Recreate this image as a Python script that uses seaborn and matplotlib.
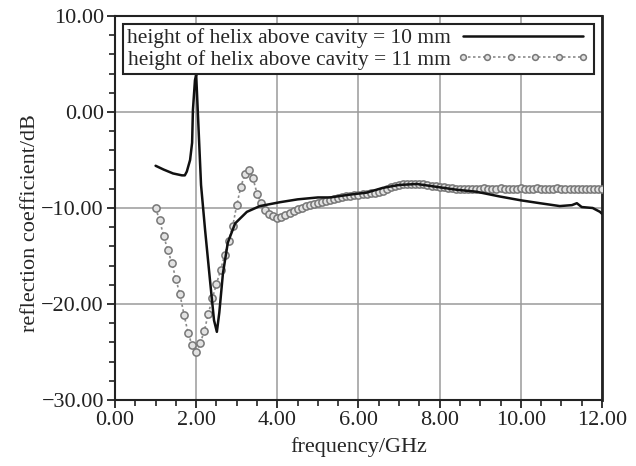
import numpy as np
import pandas as pd
import matplotlib
matplotlib.use("Agg")
import matplotlib.pyplot as plt
import seaborn as sns
from matplotlib.ticker import MultipleLocator, FuncFormatter

# ---- data ----
freq_10mm = [1.0, 1.2, 1.43, 1.65, 1.72, 1.77, 1.85, 1.9, 1.92, 1.97, 2.0, 2.12, 2.22, 2.34,
             2.44, 2.51, 2.57, 2.66, 2.78, 2.96, 3.25, 3.57, 4.06, 4.5, 5.0, 5.3, 5.8, 6.2,
             6.6, 7.0, 7.44, 7.93, 8.42, 8.9, 9.48, 10.0, 10.47, 10.96, 11.26, 11.38, 11.5,
             11.77, 11.95, 12.0]
refl_10mm = [-5.6, -6.0, -6.4, -6.6, -6.6, -6.2, -5.0, -3.2, 0.2, 3.3, 3.9, -7.6, -12.3, -17.5,
             -21.7, -22.9, -20.9, -16.8, -13.6, -11.6, -10.4, -9.8, -9.4, -9.1, -8.9, -8.9, -8.6, -8.4,
             -7.9, -7.6, -7.5, -7.8, -8.1, -8.3, -8.8, -9.2, -9.5, -9.8, -9.7, -9.5, -9.9,
             -10.0, -10.4, -10.6]

freq_11mm = [1.0, 1.1, 1.2, 1.3, 1.4, 1.5, 1.6, 1.7, 1.8, 1.9, 2.0, 2.1, 2.2, 2.3, 2.4, 2.5,
             2.6, 2.7, 2.8, 2.9, 3.0, 3.1, 3.2, 3.3, 3.4, 3.5, 3.6, 3.7, 3.8, 3.9, 4.0, 4.1,
             4.2, 4.3, 4.4, 4.5, 4.6, 4.7, 4.8, 4.9, 5.0, 5.1, 5.2, 5.3, 5.4, 5.5, 5.6, 5.7,
             5.8, 5.9, 6.0, 6.1, 6.2, 6.3, 6.4, 6.5, 6.6, 6.7, 6.8, 6.9, 7.0, 7.1, 7.2, 7.3,
             7.4, 7.5, 7.6, 7.7, 7.8, 7.9, 8.0, 8.1, 8.2, 8.3, 8.4, 8.5, 8.6, 8.7, 8.8, 8.9,
             9.0, 9.1, 9.2, 9.3, 9.4, 9.5, 9.6, 9.7, 9.8, 9.9, 10.0, 10.1, 10.2, 10.3, 10.4,
             10.5, 10.6, 10.7, 10.8, 10.9, 11.0, 11.1, 11.2, 11.3, 11.4, 11.5, 11.6, 11.7,
             11.8, 11.9, 12.0]
refl_11mm = [-10.0, -11.3, -12.9, -14.4, -15.7, -17.4, -19.0, -21.1, -23.0, -24.3, -25.0, -24.1,
             -22.8, -21.0, -19.4, -17.9, -16.5, -14.9, -13.4, -11.9, -9.7, -7.8, -6.5, -6.0,
             -6.9, -8.5, -9.5, -10.2, -10.6, -10.8, -11.0, -10.9, -10.7, -10.5, -10.3, -10.1,
             -9.95, -9.8, -9.7, -9.6, -9.5, -9.4, -9.3, -9.2, -9.1, -9.0, -8.9, -8.8, -8.7,
             -8.65, -8.6, -8.55, -8.5, -8.45, -8.4, -8.3, -8.2, -8.0, -7.8, -7.7, -7.6, -7.55,
             -7.5, -7.5, -7.5, -7.5, -7.55, -7.6, -7.7, -7.75, -7.8, -7.85, -7.9, -7.95, -8.0,
             -8.0, -8.0, -8.0, -8.0, -8.0, -8.0, -7.95, -8.0, -8.0, -8.0, -7.95, -8.0, -8.0,
             -8.0, -8.0, -7.95, -8.0, -8.0, -8.0, -7.95, -8.0, -8.0, -8.0, -8.0, -7.95, -8.0,
             -8.0, -8.0, -8.0, -8.0, -8.0, -8.0, -8.0, -8.0, -8.0, -8.0]

label_10mm = "height of helix above cavity = 10 mm"
label_11mm = "height of helix above cavity = 11 mm"
x_label = "frequency/GHz"
y_label = "reflection coefficient/dB"

df10 = pd.DataFrame({"f": freq_10mm, "r": refl_10mm})
df11 = pd.DataFrame({"f": freq_11mm, "r": refl_11mm})

sns.set_theme(style="white")
plt.rcParams["font.family"] = ["Liberation Serif", "DejaVu Serif"]

fig = plt.figure(figsize=(6.36, 4.66), dpi=100)
ax = fig.add_axes([115 / 636, 1 - 400 / 466, 487 / 636, 384 / 466])

sns.lineplot(data=df11, x="f", y="r", ax=ax, color="#8a8a8a", linestyle=(0, (1.5, 1.5)),
             linewidth=1.2, marker="o", markersize=5.2, markerfacecolor="#e2e2e2",
             markeredgecolor="#777777", markeredgewidth=1.1, label=label_11mm,
             estimator=None, sort=False, zorder=3)
sns.lineplot(data=df10, x="f", y="r", ax=ax, color="#111111", linewidth=1.8,
             label=label_10mm, estimator=None, sort=False, zorder=4)

ax.set_xlim(0, 12)
ax.set_ylim(-30, 10)
ax.xaxis.set_major_locator(MultipleLocator(2))
ax.xaxis.set_minor_locator(MultipleLocator(0.5))
ax.yaxis.set_major_locator(MultipleLocator(10))
ax.yaxis.set_minor_locator(MultipleLocator(2))
fmt = FuncFormatter(lambda v, p: ("%.2f" % v).replace("-", "\u2212"))
ax.xaxis.set_major_formatter(fmt)
ax.yaxis.set_major_formatter(fmt)
ax.grid(True, which="major", color="#9a9a9a", linewidth=1.1)
ax.set_axisbelow(True)

for s in ax.spines.values():
    s.set_color("#222222")
    s.set_linewidth(1.5)
ax.spines["right"].set_linewidth(2.0)

ax.tick_params(axis="both", which="both", direction="out", colors="#222222",
               top=False, right=False, left=True, bottom=True)
ax.tick_params(axis="both", which="major", length=6, width=1.3, labelsize=16, pad=2)
ax.tick_params(axis="both", which="minor", length=4, width=1.2)

ax.set_xlabel(x_label, fontsize=16, labelpad=5)
ax.set_ylabel(y_label, fontsize=16, labelpad=5)
ax.yaxis.set_label_coords(-0.155, 0.46)

handles, labels = ax.get_legend_handles_labels()
order = [labels.index(label_10mm), labels.index(label_11mm)]
leg = ax.legend([handles[i] for i in order], [labels[i] for i in order],
                loc="upper left", bbox_to_anchor=(0.016, 0.979), markerfirst=False,
                fontsize=15.5, frameon=True, fancybox=False, edgecolor="#222222",
                framealpha=1, borderpad=0.2, labelspacing=0.05, handlelength=6.2,
                handletextpad=0.25, borderaxespad=0, numpoints=6, markerscale=0.8)
leg.get_frame().set_linewidth(1.5)

fig.savefig("out.png", dpi=100)
